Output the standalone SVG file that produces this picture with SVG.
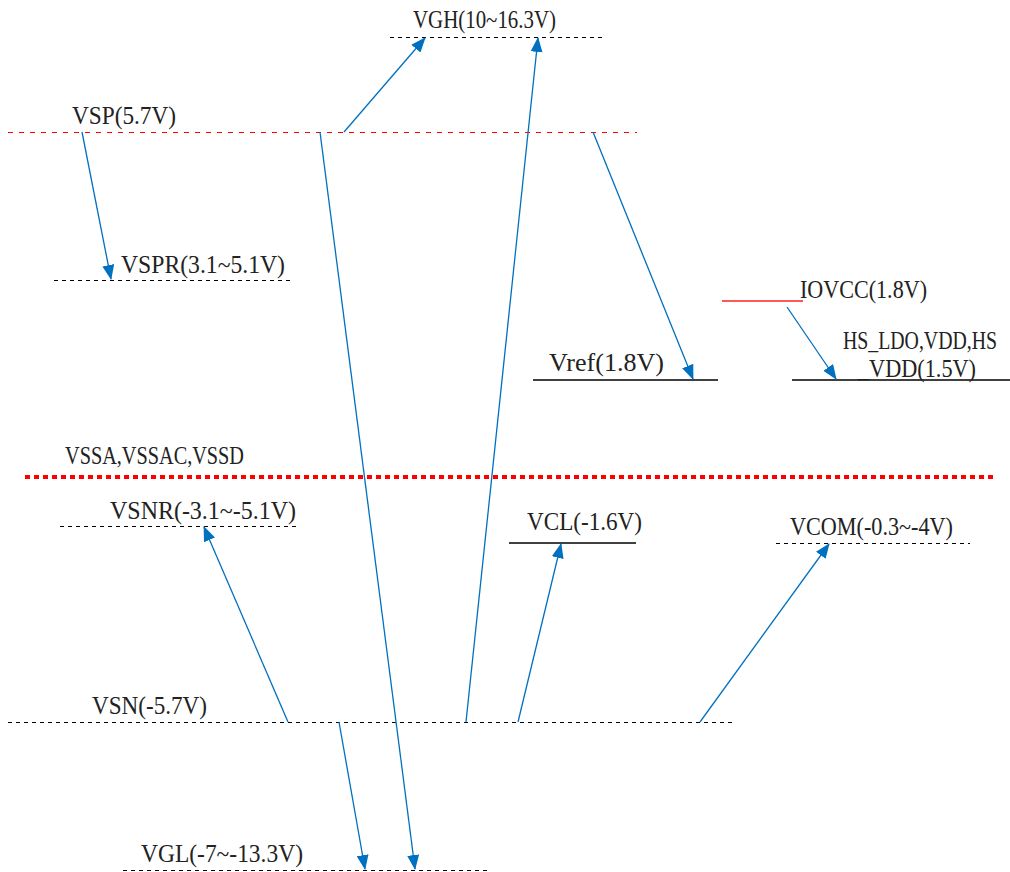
<svg xmlns="http://www.w3.org/2000/svg" width="1010" height="872" viewBox="0 0 1010 872">
<style>
text{font-family:"Liberation Serif","Noto Sans CJK SC",serif;font-size:26px;fill:#222}
.dash{stroke:#000;stroke-width:1;stroke-dasharray:4 4;fill:none}
.solid{stroke:#000;stroke-width:1.3;fill:none}
.rdash{stroke:#ff0000;stroke-width:1;stroke-dasharray:5 6;fill:none}
.rsolid{stroke:#ff2020;stroke-width:1.5;fill:none}
.rdot{stroke:#ff0000;stroke-width:4;stroke-dasharray:5 4;fill:none}
.c{stroke:#0070C0;stroke-width:1.3;fill:none;marker-end:url(#ah)}
</style>
<defs>
<marker id="ah" markerUnits="userSpaceOnUse" markerWidth="16" markerHeight="12" refX="14" refY="6" orient="auto">
<path d="M0,0 L15,6 L0,12 Z" fill="#0070C0"/>
</marker>
</defs>
<rect width="1010" height="872" fill="#fff"/>
<g id="VGH"><line class="dash" x1="390" y1="37.5" x2="606" y2="37.5"/><text x="413" y="28" textLength="143" lengthAdjust="spacingAndGlyphs">VGH(10~16.3V)</text></g>
<g id="VSP"><line class="rdash" x1="8" y1="132.5" x2="637" y2="132.5"/><text x="72" y="124" textLength="104" lengthAdjust="spacingAndGlyphs">VSP(5.7V)</text></g>
<g id="VSPR"><line class="dash" x1="54" y1="280.5" x2="292" y2="280.5"/><text x="121" y="273" textLength="164" lengthAdjust="spacingAndGlyphs">VSPR(3.1~5.1V)</text></g>
<g id="IOVCC"><line class="rsolid" x1="722" y1="301" x2="803" y2="301"/><text x="800" y="298" textLength="127" lengthAdjust="spacingAndGlyphs">IOVCC(1.8V)</text></g>
<g id="Vref"><line class="solid" x1="533" y1="380" x2="718" y2="380"/><text x="549" y="371" textLength="115" lengthAdjust="spacingAndGlyphs">Vref(1.8V)</text></g>
<g id="HS_LDO"><line class="solid" x1="792" y1="380" x2="1010" y2="380"/><text x="843" y="349" textLength="154" lengthAdjust="spacingAndGlyphs">HS_LDO,VDD,HS</text><text x="858" y="377" textLength="118" lengthAdjust="spacingAndGlyphs">_VDD(1.5V)</text></g>
<g id="VSSA"><line class="rdot" x1="25" y1="477" x2="995" y2="477"/><text x="65" y="464" textLength="179" lengthAdjust="spacingAndGlyphs">VSSA,VSSAC,VSSD</text></g>
<g id="VSNR"><line class="dash" x1="60" y1="526.5" x2="298" y2="526.5"/><text x="110" y="519" textLength="186" lengthAdjust="spacingAndGlyphs">VSNR(-3.1~-5.1V)</text></g>
<g id="VCL"><line class="solid" x1="509" y1="543" x2="636" y2="543"/><text x="527" y="530" textLength="115" lengthAdjust="spacingAndGlyphs">VCL(-1.6V)</text></g>
<g id="VCOM"><line class="dash" x1="776" y1="543.5" x2="970" y2="543.5"/><text x="790" y="535" textLength="163" lengthAdjust="spacingAndGlyphs">VCOM(-0.3~-4V)</text></g>
<g id="VSN"><line class="dash" x1="8" y1="722.5" x2="735" y2="722.5"/><text x="92" y="714" textLength="115" lengthAdjust="spacingAndGlyphs">VSN(-5.7V)</text></g>
<g id="VGL"><line class="dash" x1="123" y1="870.5" x2="490" y2="870.5"/><text x="141" y="862" textLength="162" lengthAdjust="spacingAndGlyphs">VGL(-7~-13.3V)</text></g>
<g id="connectors">
<line class="c" x1="344" y1="132" x2="425" y2="38"/>
<line class="c" x1="466" y1="722" x2="538" y2="38"/>
<line class="c" x1="320" y1="132" x2="415" y2="869"/>
<line class="c" x1="82" y1="132" x2="111" y2="279"/>
<line class="c" x1="593" y1="132" x2="693" y2="379"/>
<line class="c" x1="787" y1="307" x2="836" y2="379"/>
<line class="c" x1="288" y1="722" x2="204" y2="527"/>
<line class="c" x1="518" y1="722" x2="561" y2="544"/>
<line class="c" x1="700" y1="722" x2="829" y2="544"/>
<line class="c" x1="339" y1="722" x2="365" y2="869"/>
</g>
</svg>
